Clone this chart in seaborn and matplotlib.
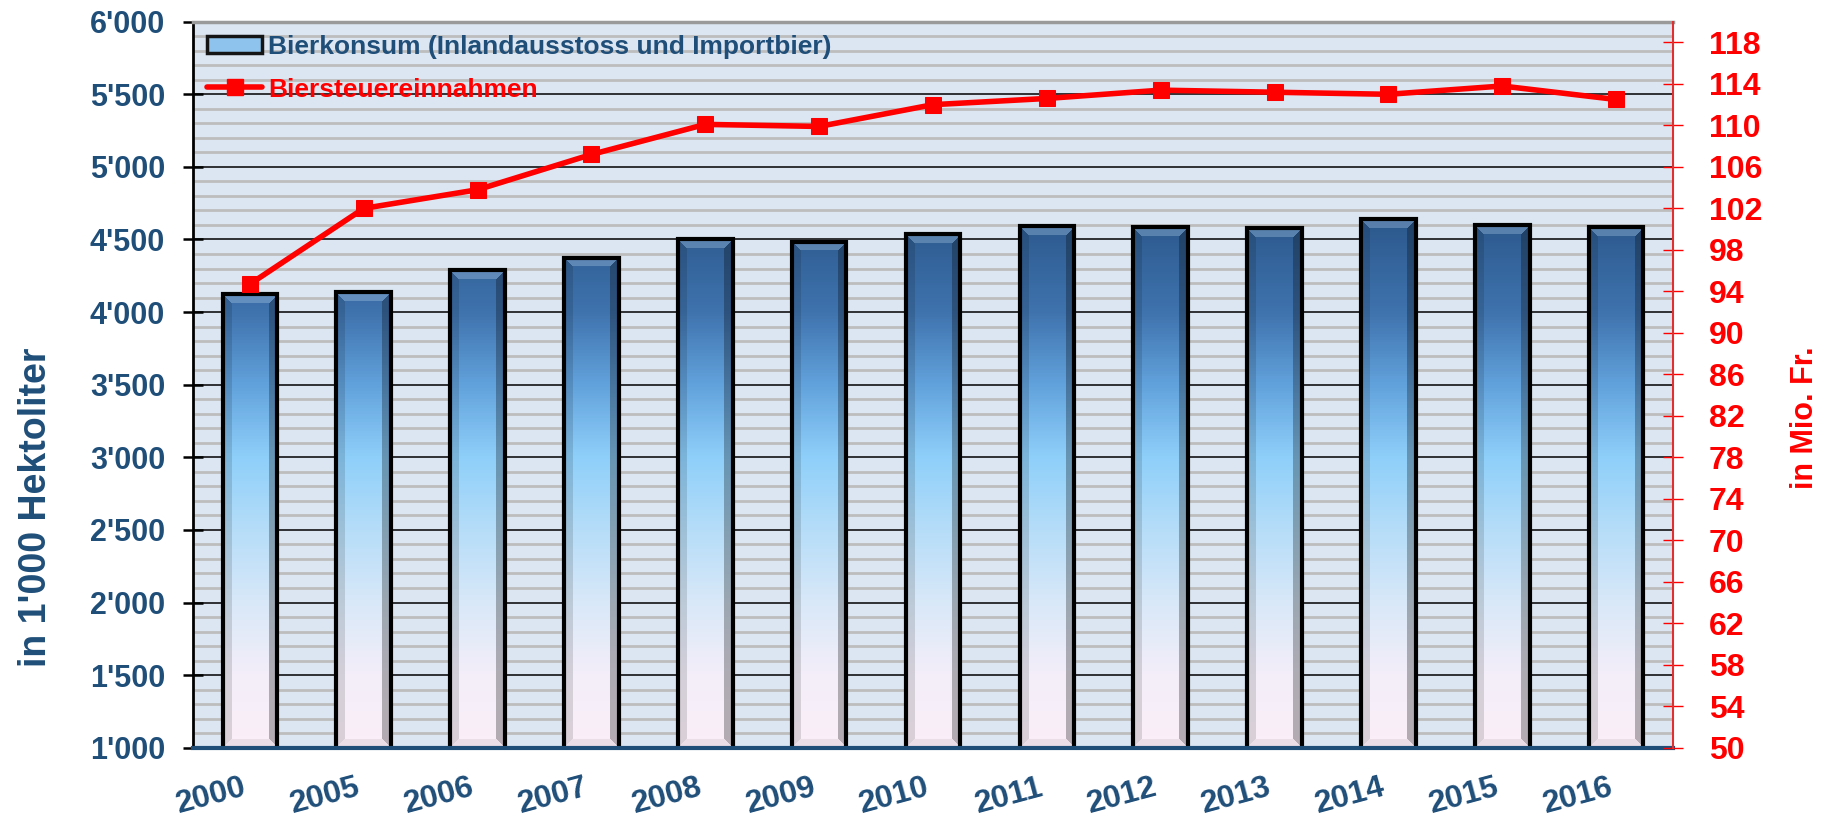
import numpy as np
import matplotlib
matplotlib.use("Agg")
import matplotlib.pyplot as plt
import seaborn as sns
from matplotlib.ticker import MultipleLocator, FixedLocator, FuncFormatter
from matplotlib.colors import LinearSegmentedColormap, Normalize
from matplotlib.lines import Line2D
from matplotlib.patches import Patch

# Daten
jahre = ["2000", "2005", "2006", "2007", "2008", "2009", "2010",
         "2011", "2012", "2013", "2014", "2015", "2016"]
bierkonsum = [4125, 4140, 4290, 4375, 4500, 4485, 4535,
              4590, 4585, 4578, 4640, 4600, 4587]          # in 1'000 hl
biersteuer = [94.7, 102.0, 103.8, 107.2, 110.1, 109.9, 112.0,
              112.6, 113.4, 113.2, 113.0, 113.8, 112.5]    # in Mio. Fr.
ticks_links = list(range(1000, 6001, 500))
ticks_rechts = list(range(50, 119, 4))

label_bier = "Bierkonsum (Inlandausstoss und Importbier)"
label_steuer = "Biersteuereinnahmen"

BLAU = "#1F4E79"
ROT = "#FF0000"

sns.set_style("white")
plt.rcParams["font.family"] = ["Liberation Sans", "DejaVu Sans"]

fig = plt.figure(figsize=(18.31, 8.18), dpi=100)
ax = fig.add_axes([193 / 1831, 70.3 / 818, 1480 / 1831, 726 / 818])
ax.set_facecolor("#DCE6F2")

# Balken
sns.barplot(x=jahre, y=bierkonsum, ax=ax, width=0.48, color="#5B8FC9",
            edgecolor="black", linewidth=3, zorder=2)
ax.set_xlim(-0.5, len(jahre) - 0.5)
ax.set_ylim(1000, 6000)
ax.set_autoscale_on(False)

# Farbverlauf + Bevel in die Balken legen
verlauf = LinearSegmentedColormap.from_list("bier", [
    (0.00, "#FBEFF8"), (0.10, "#F3EEF9"), (0.20, "#D8E8F8"),
    (0.30, "#B5DDF8"), (0.40, "#8ECFFA"), (0.50, "#62A2DC"),
    (0.60, "#3F73AE"), (0.74, "#2A5689"), (1.00, "#2A5689")])
norm = Normalize(1000, 6000)

for p in list(ax.patches):
    x0, w, top = p.get_x(), p.get_width(), p.get_height()
    (px0, py0) = ax.transData.transform((x0, 1000))
    (px1, py1) = ax.transData.transform((x0 + w, top))
    W, H = max(int(round(px1 - px0)), 2), max(int(round(py1 - py0)), 2)
    werte = np.linspace(top, 1000, H)
    rgb = verlauf(norm(werte))[:, :3]
    img = np.repeat(rgb[:, None, :], W, axis=1)
    r = np.arange(H)[:, None] * np.ones((1, W))
    c = np.ones((H, 1)) * np.arange(W)[None, :]
    dist = np.stack([r, H - 1 - r, c, W - 1 - c])
    welche = dist.argmin(axis=0)
    rand = dist.min(axis=0) < 9
    oben = rand & (welche == 0)
    unten = rand & (welche == 1)
    links = rand & (welche == 2)
    rechts = rand & (welche == 3)
    img[oben] = img[oben] * 0.7 + 0.3 * np.array([0.75, 0.85, 0.95])
    img[unten] = img[unten] * 0.85 + 0.15 * np.array([0.6, 0.5, 0.55])
    img[links] = img[links] * 0.87
    img[rechts] = img[rechts] * 0.72
    ax.imshow(img, extent=(x0, x0 + w, 1000, top), origin="upper",
              aspect="auto", zorder=1.5, interpolation="bilinear")
    p.set_facecolor("none")

# Gitter
ax.yaxis.set_major_locator(FixedLocator(ticks_links))
ax.yaxis.set_minor_locator(MultipleLocator(100))
ax.set_axisbelow(True)
ax.grid(axis="y", which="minor", color="#BDBDBD", linewidth=2.0)
ax.grid(axis="y", which="major", color="black", linewidth=1.1)
ax.yaxis.set_major_formatter(FuncFormatter(lambda v, _: f"{v:,.0f}".replace(",", "'")))
ax.tick_params(axis="y", which="major", direction="inout", length=15, width=1.8,
               color="black", pad=12.5, labelsize=22, labelcolor=BLAU)
ax.tick_params(axis="y", which="minor", length=0)
for t in ax.get_yticklabels():
    t.set_fontweight("bold")

# x-Achse
ax.xaxis.set_minor_locator(FixedLocator(np.arange(-0.5, len(jahre), 1.0)))
ax.tick_params(axis="x", which="major", length=0, pad=18, labelsize=23, labelcolor=BLAU)
ax.tick_params(axis="x", which="minor", direction="in", length=5, width=2.4, color=BLAU)
for t in ax.get_xticklabels():
    t.set_fontweight("bold")
    t.set_rotation(15)
    t.set_ha("right")

ax.spines["bottom"].set_color(BLAU)
ax.spines["bottom"].set_linewidth(3)
ax.spines["left"].set_color("black")
ax.spines["left"].set_linewidth(2)
ax.spines["top"].set_color("#9A9A9A")
ax.spines["top"].set_linewidth(2.5)
ax.spines["right"].set_visible(False)

ax.set_ylabel("in 1'000 Hektoliter", fontsize=27, fontweight="bold", color=BLAU)
ax.yaxis.set_label_coords(-0.094, 0.331)
ax.set_xlabel("")

# Linie: Biersteuer
ax2 = ax.twinx()
pos = np.arange(len(jahre))
sns.lineplot(x=pos, y=biersteuer, ax=ax2, color=ROT, linewidth=4, marker="s",
             markersize=11, markeredgecolor=ROT, zorder=5)
ax2.set_ylim(50, 120)
ax2.set_xlim(-0.5, len(jahre) - 0.5)
ax2.yaxis.set_major_locator(FixedLocator(ticks_rechts))
ax2.tick_params(axis="y", direction="inout", length=13.7, width=1, color=ROT,
                pad=19, labelsize=23, labelcolor=ROT)
for t in ax2.get_yticklabels():
    t.set_fontweight("bold")
for s in ["left", "top", "bottom"]:
    ax2.spines[s].set_visible(False)
ax2.spines["right"].set_color("#E03030")
ax2.spines["right"].set_linewidth(1.5)
ax2.set_ylabel("in Mio. Fr.", fontsize=22, fontweight="bold", color=ROT)
ax2.yaxis.set_label_coords(1.079, 0.454)
ax2.set_xlabel("")

# Legende
handles = [
    Patch(facecolor="#8EC3EE", edgecolor="#151515", linewidth=2.5),
    Line2D([0], [0], color=ROT, linewidth=4, marker="s", markersize=11),
]
leg = ax2.legend(handles, [label_bier, label_steuer], loc="upper left",
                 bbox_to_anchor=(0.0095, 0.982), frameon=False, borderpad=0,
                 borderaxespad=0, handlelength=2.1, handleheight=0.65,
                 handletextpad=0.2, labelspacing=0.71,
                 prop={"weight": "bold", "size": 19})
leg.get_texts()[0].set_color(BLAU)
leg.get_texts()[1].set_color(ROT)

fig.savefig("out.png", dpi=100, facecolor="white")
